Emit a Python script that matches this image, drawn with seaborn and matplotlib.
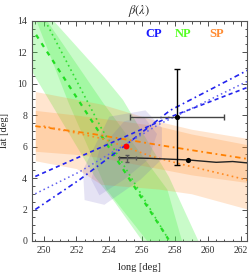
import numpy as np
import matplotlib
matplotlib.use("Agg")
import matplotlib.pyplot as plt
import seaborn as sns
import pandas as pd
from matplotlib.ticker import MultipleLocator

# ---- NP (green) bands, given as x-range per latitude ----
np_lat = [0.0, 2.5, 4.1, 9.0, 10.4, 14.0]
np_outer_left = [256.0, 254.3, 253.1, 250.3, 249.5, 247.5]
np_outer_right = [259.4, 258.3, 257.6, 254.8, 253.7, 250.6]
np_inner_lat = [0.0, 3.3, 8.8, 14.0]
np_inner_left = [256.3, 253.8, 251.5, 249.55]
np_inner_right = [258.4, 257.5, 253.6, 250.2]

# ---- SP (orange) bands, lat range per longitude ----
sp_long = [249.5, 252.0, 253.5, 257.0, 259.0, 262.5]
sp_outer_low = [5.1, 4.6, 3.6, 3.3, 3.0, 2.0]
sp_outer_high = [9.5, 9.0, 8.7, 7.6, 7.1, 6.5]
sp_inner_low = [5.7, 5.5, 5.3, 4.6, 4.2, 3.7]
sp_inner_high = [8.3, 8.0, 7.8, 7.3, 6.8, 6.1]

# ---- CP (blue) region outlines ----
cp_outer_long = [254.0, 256.2, 257.2, 257.2, 255.9, 253.7, 252.5, 252.4]
cp_outer_lat = [7.9, 8.3, 7.2, 5.2, 3.9, 2.3, 2.6, 4.5]
cp_inner_long = [254.9, 256.1, 256.9, 256.4, 254.9, 253.4, 252.9, 253.4]
cp_inner_lat = [7.6, 7.9, 6.8, 5.2, 3.9, 2.9, 3.9, 5.8]

# ---- model curves ----
cp_dashdot_long = [249.5, 252.2, 255.0, 257.7, 262.5]
cp_dashdot_lat = [2.0, 3.9, 6.1, 8.3, 10.9]
cp_dashed_long = [249.5, 253.6, 257.5, 262.5]
cp_dashed_lat = [4.1, 6.0, 7.8, 9.8]
cp_dotted_long = [249.5, 252.2, 257.0, 262.5]
cp_dotted_lat = [3.0, 4.4, 7.4, 10.2]

np_dashed_long = [249.55, 257.6]
np_dashed_lat = [13.1, 0.1]
np_dotted_long = [250.1, 253.5, 257.6]
np_dotted_lat = [14.0, 7.2, 0.1]

sp_dashdot_long = [249.5, 253.0, 257.0, 262.5]
sp_dashdot_lat = [7.3, 6.8, 6.1, 5.2]
sp_dotted_long = [250.0, 253.6, 256.5, 258.3, 262.5]
sp_dotted_lat = [7.3, 6.5, 5.4, 4.9, 3.85]

# ---- measurements ----
obs_long = [258.1]
obs_lat = [7.85]
obs_xerr = [2.85]
obs_yerr_low = [3.0]
obs_yerr_high = [3.1]

track_long = [254.6, 256.5, 258.8, 260.5, 261.5, 262.5]
track_lat = [5.3, 5.25, 5.15, 5.0, 5.05, 4.95]
track_pt_long = [258.8]
track_pt_lat = [5.15]

grey_long = [255.1]
grey_lat = [5.25]
grey_xerr = [0.5]
grey_yerr = [0.2]

red_long = [255.0]
red_lat = [6.06]

labels = ["CP", "NP", "SP"]
label_long = [256.7, 258.5, 260.5]
label_lat = [13.15, 13.15, 13.15]
label_colors = ["#1a1aff", "#55ff22", "#ff8c33"]

sns.set_style("ticks")
plt.rcParams["font.family"] = ["Liberation Serif", "DejaVu Serif"]
plt.rcParams["mathtext.fontset"] = "stix"

fig = plt.figure(figsize=(2.49, 2.72), dpi=100)
ax = fig.add_axes([0.1285, 0.114, 0.862, 0.81])

green = (0.3, 0.95, 0.3)
orange = (1.0, 0.55, 0.15)
purple = (0.4, 0.35, 0.75)

ax.fill_betweenx(np_lat, np_outer_left, np_outer_right, color=green, alpha=0.3, lw=0)
ax.fill_betweenx(np_inner_lat, np_inner_left, np_inner_right, color=green, alpha=0.3, lw=0)
ax.fill_between(sp_long, sp_outer_low, sp_outer_high, color=orange, alpha=0.22, lw=0)
ax.fill_between(sp_long, sp_inner_low, sp_inner_high, color=orange, alpha=0.22, lw=0)
ax.fill(cp_outer_long, cp_outer_lat, color=purple, alpha=0.17, lw=0)
ax.fill(cp_inner_long, cp_inner_lat, color=purple, alpha=0.15, lw=0)

def curve(xs, ys, color, ls, lw=1.2):
    sns.lineplot(x=xs, y=ys, ax=ax, color=color, linestyle=ls, lw=lw, sort=False, estimator=None)

curve(np_dashed_long, np_dashed_lat, "#22dd22", (0, (2, 2.5)), 1.6)
curve(np_dotted_long, np_dotted_lat, "#33dd33", (0, (1, 2)), 1.2)
curve(sp_dashdot_long, sp_dashdot_lat, "#ff8000", (0, (3, 2, 1, 2)), 1.3)
curve(sp_dotted_long, sp_dotted_lat, "#ff8a20", (0, (1, 2)), 1.2)
curve(cp_dashdot_long, cp_dashdot_lat, "#2222ee", (0, (3, 2, 1, 2)), 1.2)
curve(cp_dashed_long, cp_dashed_lat, "#2222ee", (0, (2.5, 2)), 1.2)
curve(cp_dotted_long, cp_dotted_lat, "#6060ee", (0, (1, 2)), 1.1)

# black track + points
curve(track_long, track_lat, "#222222", "-", 1.0)
ax.errorbar(obs_long, obs_lat, xerr=obs_xerr, fmt="none", ecolor="#444444", elinewidth=1.0, capsize=2)
ax.errorbar(obs_long, obs_lat, yerr=[obs_yerr_low, obs_yerr_high], fmt="none", ecolor="black", elinewidth=1.0, capsize=2)
ax.errorbar(grey_long, grey_lat, xerr=grey_xerr, yerr=grey_yerr, fmt="none", ecolor="#555555", elinewidth=1.0, capsize=1.5)
sns.scatterplot(x=obs_long, y=obs_lat, ax=ax, color="black", s=14, linewidth=0, zorder=5)
sns.scatterplot(x=track_pt_long, y=track_pt_lat, ax=ax, color="black", s=14, linewidth=0, zorder=5)
sns.scatterplot(x=red_long, y=red_lat, ax=ax, color="red", s=18, linewidth=0, zorder=5)

for t, lx, ly, c in zip(labels, label_long, label_lat, label_colors):
    ax.text(lx, ly, t, color=c, fontsize=9, fontweight="bold", ha="center", va="center")

ax.set_xlim(249.3, 262.35)
ax.set_ylim(0, 14)
ax.xaxis.set_major_locator(MultipleLocator(2))
ax.xaxis.set_minor_locator(MultipleLocator(0.5))
ax.yaxis.set_major_locator(MultipleLocator(2))
ax.yaxis.set_minor_locator(MultipleLocator(0.5))
ax.tick_params(which="both", direction="in", top=True, right=True, colors="#333333", labelsize=7, width=0.6)
ax.tick_params(which="major", length=3.5)
ax.tick_params(which="minor", length=1.8)
for s in ax.spines.values():
    s.set_color("#555555")
    s.set_linewidth(0.8)

ax.set_xlabel("long [deg]", fontsize=7.5, color="#222222", labelpad=6)
ax.set_ylabel("lat [deg]", fontsize=7.5, color="#222222", labelpad=6)
ax.set_title(r"$\beta(\lambda)$", fontsize=9, pad=5)

fig.savefig("out.png", dpi=100)
